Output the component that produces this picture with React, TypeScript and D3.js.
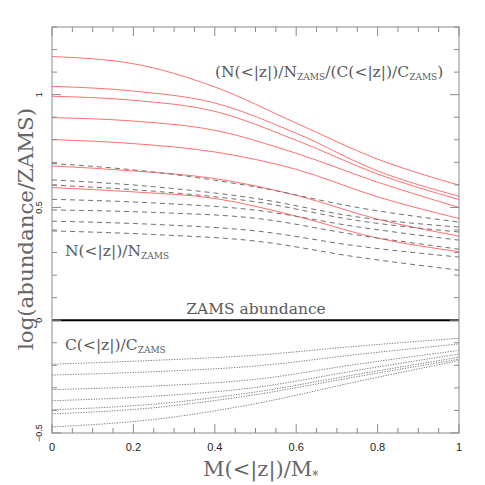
import React from 'react';
import * as d3 from 'd3';

// x grid for the solid (N/C ratio) curves
const xRatio = [0, 0.2, 0.4, 0.6, 0.8, 1];
// N/C ratio curves (solid red)
const ratio1 = [1.169, 1.137, 1.034, 0.874, 0.714, 0.599];
const ratio2 = [1.037, 1.016, 0.963, 0.829, 0.662, 0.55];
const ratio3 = [0.993, 0.975, 0.926, 0.798, 0.648, 0.535];
const ratio4 = [0.898, 0.883, 0.842, 0.74, 0.612, 0.5];
const ratio5 = [0.801, 0.783, 0.746, 0.669, 0.547, 0.451];
const ratio6 = [0.684, 0.662, 0.628, 0.554, 0.448, 0.373];
const ratio7 = [0.588, 0.569, 0.54, 0.4615, 0.364, 0.304];

// x grid for N and C curves
const xNC = [0, 0.25, 0.5, 0.75, 1];
// N(<|z|)/N_ZAMS (dashed)
const nitro1 = [0.695, 0.657, 0.591, 0.5, 0.435];
const nitro2 = [0.622, 0.592, 0.54, 0.458, 0.413];
const nitro3 = [0.599, 0.572, 0.525, 0.442, 0.391];
const nitro4 = [0.536, 0.52, 0.488, 0.414, 0.355];
const nitro5 = [0.489, 0.478, 0.452, 0.378, 0.315];
const nitro6 = [0.439, 0.425, 0.396, 0.329, 0.28];
const nitro7 = [0.396, 0.38, 0.351, 0.28, 0.222];
// C(<|z|)/C_ZAMS (dotted)
const carbon1 = [-0.195, -0.178, -0.155, -0.115, -0.08];
const carbon2 = [-0.243, -0.228, -0.203, -0.152, -0.105];
const carbon3 = [-0.308, -0.292, -0.262, -0.195, -0.134];
const carbon4 = [-0.357, -0.337, -0.298, -0.222, -0.15];
const carbon5 = [-0.397, -0.372, -0.318, -0.24, -0.164];
const carbon6 = [-0.415, -0.388, -0.33, -0.25, -0.173];
const carbon7 = [-0.473, -0.44, -0.37, -0.272, -0.179];

const xTickLabels = ['0', '0.2', '0.4', '0.6', '0.8', '1'];
const yTickLabels = ['\u22120.5', '0', '0.5', '1'];

const W = 485, H = 485;
const margin = { left: 52, right: 26, top: 27, bottom: 52 };
const serif = '"DejaVu Serif", serif';
const sans = '"Liberation Sans", Arial, sans-serif';
const textColor = '#5a5a5a';

export default function App() {
  const x = d3.scaleLinear().domain([0, 1]).range([margin.left, W - margin.right]);
  const y = d3.scaleLinear().domain([-0.5, 1.3]).range([H - margin.bottom, margin.top]);

  const line = (xs: number[]) =>
    d3.line<number>()
      .x((_, i) => x(xs[i]))
      .y(d => y(d))
      .curve(d3.curveMonotoneX);

  const ratios = [ratio1, ratio2, ratio3, ratio4, ratio5, ratio6, ratio7];
  const nitros = [nitro1, nitro2, nitro3, nitro4, nitro5, nitro6, nitro7];
  const carbons = [carbon1, carbon2, carbon3, carbon4, carbon5, carbon6, carbon7];

  const [x0, x1] = x.range();
  const [y0, y1] = y.range();
  const xTicks = d3.range(0, 1.0001, 0.05);
  const yTicks = d3.range(-0.5, 1.3001, 0.1);
  const isMajorX = (v: number) => Math.abs(v * 5 - Math.round(v * 5)) < 1e-6;
  const isMajorY = (v: number) => Math.abs(v * 2 - Math.round(v * 2)) < 1e-6;

  return (
    <svg width={W} height={H} style={{ position: 'absolute', left: 0, top: 0, background: '#fff' }}>
      {/* curves */}
      {ratios.map((s, i) => (
        <path key={'r' + i} d={line(xRatio)(s) || ''} fill="none" stroke="#ff7070" strokeWidth={1} />
      ))}
      {nitros.map((s, i) => (
        <path key={'n' + i} d={line(xNC)(s) || ''} fill="none" stroke="#707070" strokeWidth={1} strokeDasharray="5,4" />
      ))}
      {carbons.map((s, i) => (
        <path key={'c' + i} d={line(xNC)(s) || ''} fill="none" stroke="#707070" strokeWidth={0.9} strokeDasharray="1.3,1.3" />
      ))}

      {/* ZAMS abundance reference */}
      <line x1={x0} x2={x1} y1={y(0)} y2={y(0)} stroke="#000" strokeWidth={2} />

      {/* frame */}
      <rect x={x0} y={y1} width={x1 - x0} height={y0 - y1} fill="none" stroke="#8a8a8a" strokeWidth={1} />
      {xTicks.map((v, i) => {
        const len = isMajorX(v) ? 9 : 5;
        return (
          <g key={'xt' + i} stroke="#8a8a8a">
            <line x1={x(v)} x2={x(v)} y1={y0} y2={y0 - len} />
            <line x1={x(v)} x2={x(v)} y1={y1} y2={y1 + len} />
          </g>
        );
      })}
      {yTicks.map((v, i) => {
        const len = isMajorY(v) ? 9 : 5;
        return (
          <g key={'yt' + i} stroke="#8a8a8a">
            <line x1={x0} x2={x0 + len} y1={y(v)} y2={y(v)} />
            <line x1={x1} x2={x1 - len} y1={y(v)} y2={y(v)} />
          </g>
        );
      })}

      {/* tick labels */}
      {xTickLabels.map((t, i) => (
        <text key={'xl' + i} x={x(+t)} y={y0 + 18} fontFamily={sans} fontSize={11} fill="#222" textAnchor="middle">{t}</text>
      ))}
      {yTickLabels.map((t, i) => {
        const v = +t.replace('\u2212', '-');
        return (
          <text key={'yl' + i} transform={`translate(${x0 - 10},${y(v)}) rotate(-90)`} fontFamily={sans} fontSize={9} fill="#222" textAnchor="middle">{t}</text>
        );
      })}

      {/* axis titles */}
      <text transform={`translate(33,229) rotate(-90)`} fontFamily={serif} fontSize={21} fill="#666" textAnchor="middle"
        textLength={242} lengthAdjust="spacingAndGlyphs">log(abundance/ZAMS)</text>
      <text x={203} y={476} fontFamily={serif} fontSize={21} fill="#666">
        M(&lt;|z|)/M<tspan fontSize={12} dy={4}>*</tspan>
      </text>

      {/* annotations */}
      <text x={215} y={77} fontFamily={serif} fontSize={15.5} fill={textColor}>
        (N(&lt;|z|)/N<tspan fontSize={9} dy={3}>ZAMS</tspan><tspan dy={-3}>/(C(&lt;|z|)/C</tspan><tspan fontSize={9} dy={3}>ZAMS</tspan><tspan dy={-3}>)</tspan>
      </text>
      <text x={65} y={256} fontFamily={serif} fontSize={15.5} fill={textColor}>
        N(&lt;|z|)/N<tspan fontSize={9} dy={3}>ZAMS</tspan>
      </text>
      <text x={256} y={314} fontFamily={serif} fontSize={15.5} fill={textColor} textAnchor="middle">ZAMS abundance</text>
      <text x={65} y={350} fontFamily={serif} fontSize={15.5} fill={textColor}>
        C(&lt;|z|)/C<tspan fontSize={9} dy={3}>ZAMS</tspan>
      </text>
    </svg>
  );
}
